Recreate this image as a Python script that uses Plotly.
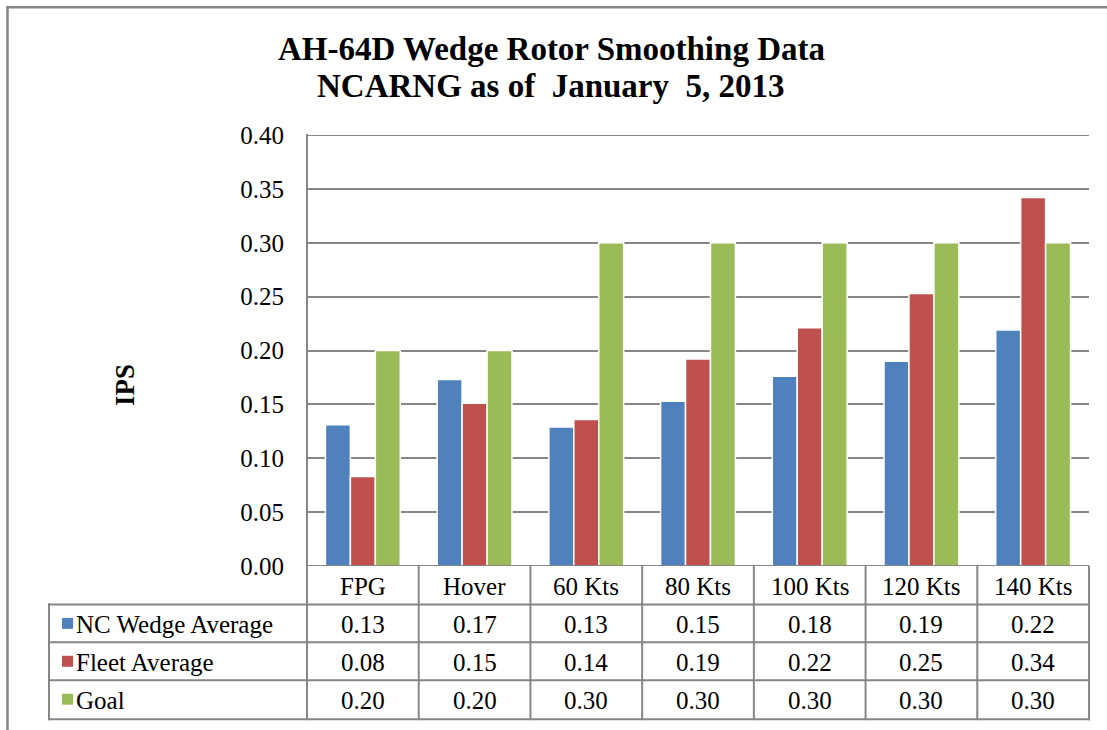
import plotly.graph_objects as go

categories = ["FPG", "Hover", "60 Kts", "80 Kts", "100 Kts", "120 Kts", "140 Kts"]
series_names = ["NC Wedge Average", "Fleet Average", "Goal"]
nc_wedge = [0.131, 0.173, 0.129, 0.153, 0.176, 0.190, 0.219]
fleet_avg = [0.083, 0.151, 0.136, 0.192, 0.221, 0.253, 0.342]
goal = [0.20, 0.20, 0.30, 0.30, 0.30, 0.30, 0.30]
y_ticks = [0.0, 0.05, 0.10, 0.15, 0.20, 0.25, 0.30, 0.35, 0.40]
title_lines = ["AH-64D Wedge Rotor Smoothing Data", "NCARNG as of\u00a0 January\u00a0 5, 2013"]
y_title = "IPS"

colors = ["#4F81BD", "#C0504D", "#9BBB59"]
series = [nc_wedge, fleet_avg, goal]

W, H = 1107, 730
L, R, T, B = 307, 1089, 134.5, 566.5
PW, PH = R - L, B - T
FONT = "Liberation Serif, Times New Roman, serif"
GRID = "#868686"
TXT = 25


def px(x):
    return (x - L) / PW


def py(y):
    return (B - y) / PH


fig = go.Figure()
for name, vals, col in zip(series_names, series, colors):
    fig.add_trace(go.Bar(
        x=categories, y=vals, name=name,
        marker=dict(color=col, line=dict(color="white", width=1.5)),
        showlegend=False,
    ))

shapes = []
# outer chart border (left and top)
shapes.append(dict(type="line", xref="paper", yref="paper", x0=px(6.5), x1=px(1110), y0=py(6.5), y1=py(6.5),
                   line=dict(color=GRID, width=2.5)))
shapes.append(dict(type="line", xref="paper", yref="paper", x0=px(7.5), x1=px(7.5), y0=py(5.5), y1=py(735),
                   line=dict(color=GRID, width=2.5)))

# data table lines
row_y = [605, 643, 681, 720]
for yy in row_y:
    shapes.append(dict(type="line", xref="paper", yref="paper", x0=px(48), x1=px(R + 1), y0=py(yy), y1=py(yy),
                       line=dict(color=GRID, width=2)))
shapes.append(dict(type="line", xref="paper", yref="paper", x0=px(49), x1=px(49), y0=py(604), y1=py(721),
                   line=dict(color=GRID, width=2)))
shapes.append(dict(type="line", xref="paper", yref="paper", x0=0, x1=0, y0=py(T - 1), y1=py(721),
                   line=dict(color=GRID, width=2)))
n = len(categories)
for k in range(1, n + 1):
    xk = k / n
    shapes.append(dict(type="line", xref="paper", yref="paper", x0=xk, x1=xk, y0=py(B), y1=py(721),
                       line=dict(color=GRID, width=2)))

annotations = []
# title
for line, yc in zip(title_lines, [48, 85]):
    annotations.append(dict(xref="paper", yref="paper", x=px(551), y=py(yc), xanchor="center", yanchor="middle",
                            text="<b>" + line + "</b>", showarrow=False,
                            font=dict(family=FONT, size=33, color="black")))
# y-axis title
annotations.append(dict(xref="paper", yref="paper", x=px(125), y=py(385), xanchor="center", yanchor="middle",
                        textangle=-90, text="<b>" + y_title + "</b>", showarrow=False,
                        font=dict(family=FONT, size=27, color="black")))

# category header row
for c in categories:
    annotations.append(dict(xref="x", yref="paper", x=c, y=py(587), xanchor="center", yanchor="middle",
                            text=c, showarrow=False, font=dict(family=FONT, size=TXT, color="black")))

# data rows
row_centers = [625, 663, 701]
for name, vals, col, yc in zip(series_names, series, colors, row_centers):
    shapes.append(dict(type="rect", xref="paper", yref="paper", x0=px(62), x1=px(73), y0=py(yc - 6.5),
                       y1=py(yc + 4.5), fillcolor=col, line=dict(width=0)))
    annotations.append(dict(xref="paper", yref="paper", x=px(74), y=py(yc), xanchor="left", yanchor="middle",
                            text=name, showarrow=False, font=dict(family=FONT, size=TXT, color="black")))
    for c, v in zip(categories, vals):
        annotations.append(dict(xref="x", yref="paper", x=c, y=py(yc), xanchor="center", yanchor="middle",
                                text=f"{v:.2f}", showarrow=False,
                                font=dict(family=FONT, size=TXT, color="black")))

fig.update_layout(
    width=W, height=H,
    margin=dict(l=L, r=W - R, t=T, b=H - B, pad=0),
    paper_bgcolor="white", plot_bgcolor="white",
    barmode="group", bargap=0.33, bargroupgap=0.0,
    shapes=shapes, annotations=annotations,
    xaxis=dict(showticklabels=False, showgrid=False, zeroline=False, showline=False, ticks=""),
    yaxis=dict(range=[0, 0.40], tickvals=y_ticks, ticktext=[f"{v:.2f}" for v in y_ticks],
               showgrid=True, gridcolor=GRID, gridwidth=2, zeroline=False, showline=False, ticks="",
               ticklabelstandoff=22, tickfont=dict(family=FONT, size=TXT, color="black")),
    font=dict(family=FONT),
)
fig.add_shape(type="line", xref="paper", yref="y", x0=0, x1=1, y0=0.40, y1=0.40, line=dict(color=GRID, width=2))
fig.add_shape(type="line", xref="paper", yref="y", x0=0, x1=1, y0=0.0, y1=0.0, line=dict(color=GRID, width=2))

fig.write_html("out.html", config={"displayModeBar": False},
               post_script="document.body.style.margin='0';document.body.style.overflow='hidden';")
